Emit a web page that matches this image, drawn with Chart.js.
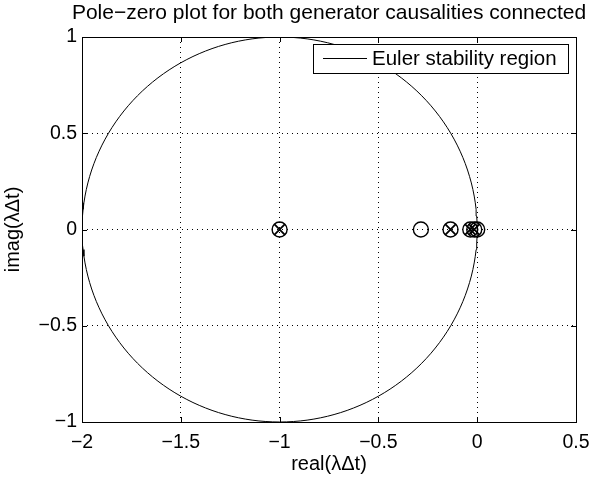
<!DOCTYPE html>
<html>
<head>
<meta charset="utf-8">
<script src="https://cdn.jsdelivr.net/npm/chart.js@4.4.1/dist/chart.umd.min.js"></script>
<style>
  html, body { margin: 0; padding: 0; background: #fff; }
  #wrap { width: 592px; height: 479px; }
</style>
</head>
<body>
<div id="wrap"><canvas id="pz"></canvas></div>
<script>
// zeros (o) and poles (x) of the discretised system
var zeroRe = [-1, -0.285, -0.135, -0.035, -0.015, 0];
var zeroIm = [0, 0, 0, 0, 0, 0];
var poleRe = [-1, -0.135, -0.035, -0.015];
var poleIm = [0, 0, 0, 0];
var xTicks = [-2, -1.5, -1, -0.5, 0, 0.5];
var yTicks = [-1, -0.5, 0, 0.5, 1];

// Euler stability region: |1 + z| <= 1
var circlePts = [];
for (var i = 0; i <= 360; i += 2) {
  var a = i * Math.PI / 180;
  circlePts.push({x: -1 + Math.cos(a), y: Math.sin(a)});
}

function pts(re, im) {
  return re.map(function (v, k) { return {x: v, y: im[k]}; });
}

function fmt(v) {
  return String(v).replace('-', '\u2212');
}

var FONT = '"Liberation Sans", Arial, Helvetica, sans-serif';

var frame = {
  id: 'frame',
  afterDraw: function (chart) {
    var c = chart.ctx, a = chart.chartArea;
    var xs = chart.scales.x, ys = chart.scales.y;
    c.save();
    c.strokeStyle = '#000';
    c.lineWidth = 1;
    c.strokeRect(a.left + 0.5, a.top + 0.5, a.right - a.left, a.bottom - a.top);
    // inward ticks on all four sides
    c.beginPath();
    xTicks.forEach(function (t) {
      var px = Math.round(xs.getPixelForValue(t)) + 0.5;
      c.moveTo(px, a.bottom); c.lineTo(px, a.bottom - 5);
      c.moveTo(px, a.top); c.lineTo(px, a.top + 5);
    });
    yTicks.forEach(function (t) {
      var py = Math.round(ys.getPixelForValue(t)) + 0.5;
      c.moveTo(a.left, py); c.lineTo(a.left + 5, py);
      c.moveTo(a.right, py); c.lineTo(a.right - 5, py);
    });
    c.stroke();

    // title
    c.fillStyle = '#000';
    c.font = '21px ' + FONT;
    c.textAlign = 'center';
    c.textBaseline = 'alphabetic';
    c.fillText('Pole\u2212zero plot for both generator causalities connected', (a.left + a.right) / 2, 19);

    // legend
    var lx = 313, ly = 44, lw = 255, lh = 29;
    c.fillStyle = '#fff';
    c.fillRect(lx, ly, lw, lh);
    c.strokeRect(lx + 0.5, ly + 0.5, lw, lh);
    c.beginPath();
    c.moveTo(323, ly + 14.5); c.lineTo(367, ly + 14.5);
    c.stroke();
    c.fillStyle = '#000';
    c.font = '20.5px ' + FONT;
    c.textAlign = 'left';
    c.textBaseline = 'middle';
    c.fillText('Euler stability region', 372, ly + 15);
    c.restore();
  }
};

new Chart(document.getElementById('pz'), {
  type: 'scatter',
  data: {
    datasets: [
      {
        label: 'Euler stability region',
        data: circlePts,
        showLine: true,
        borderColor: '#000',
        borderWidth: 1,
        pointRadius: 0,
        fill: false
      },
      {
        label: 'zeros',
        data: pts(zeroRe, zeroIm),
        pointStyle: 'circle',
        pointRadius: 7.5,
        pointBorderWidth: 1.4,
        borderColor: '#000',
        backgroundColor: 'rgba(0,0,0,0)'
      },
      {
        label: 'poles',
        data: pts(poleRe, poleIm),
        pointStyle: 'crossRot',
        pointRadius: 7.5,
        pointBorderWidth: 1.8,
        borderColor: '#000',
        backgroundColor: 'rgba(0,0,0,0)'
      }
    ]
  },
  options: {
    responsive: true,
    maintainAspectRatio: false,
    animation: false,
    layout: { padding: { top: 37, right: 16, left: 0, bottom: 0 } },
    plugins: {
      legend: { display: false },
      title: { display: false },
      tooltip: { enabled: false }
    },
    scales: {
      x: {
        type: 'linear',
        min: -2, max: 0.5,
        afterBuildTicks: function (s) { s.ticks = xTicks.map(function (v) { return {value: v}; }); },
        afterFit: function (s) { s.height = 57; s.paddingRight = 0; s.paddingLeft = 0; },
        ticks: {
          color: '#000',
          font: { family: FONT, size: 19.5 },
          padding: 9,
          maxRotation: 0,
          callback: function (v) { return fmt(v); }
        },
        grid: { color: '#000', lineWidth: 1, drawTicks: false },
        border: { display: false, dash: [1, 4] },
        title: {
          display: true,
          text: 'real(\u03bb\u0394t)',
          color: '#000',
          font: { family: FONT, size: 20 },
          padding: { top: 0, bottom: 3 }
        }
      },
      y: {
        type: 'linear',
        min: -1, max: 1,
        afterBuildTicks: function (s) { s.ticks = yTicks.map(function (v) { return {value: v}; }); },
        afterFit: function (s) { s.width = 82; s.paddingTop = 0; s.paddingBottom = 0; },
        ticks: {
          color: '#000',
          font: { family: FONT, size: 19.5 },
          padding: 5,
          callback: function (v) { return fmt(v); }
        },
        grid: { color: '#000', lineWidth: 1, drawTicks: false },
        border: { display: false, dash: [1, 4] },
        title: {
          display: true,
          text: 'imag(\u03bb\u0394t)',
          color: '#000',
          font: { family: FONT, size: 20 },
          padding: { top: 1, bottom: 0 }
        }
      }
    }
  },
  plugins: [frame]
});
</script>
</body>
</html>
